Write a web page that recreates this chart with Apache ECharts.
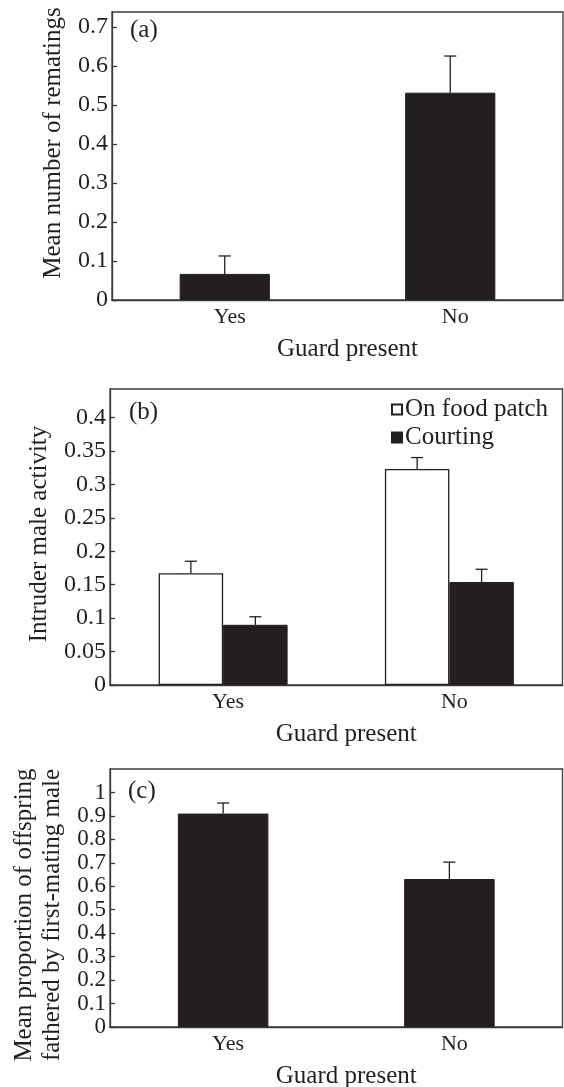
<!DOCTYPE html>
<html>
<head>
<meta charset="utf-8">
<script src="https://cdn.jsdelivr.net/npm/echarts@6/dist/echarts.min.js"></script>
<style>html,body{margin:0;padding:0;background:#fff}#c{width:564px;height:1087px}</style>
</head>
<body>
<div id="c"></div>
<script>
// ---- data ----
const categories = ['Yes', 'No'];
// (a) mean number of rematings
const rematingMean = [0.067, 0.532];
const rematingSE = [0.046, 0.094];
const ticksA = [0, 0.1, 0.2, 0.3, 0.4, 0.5, 0.6, 0.7];
// (b) intruder male activity
const foodPatchMean = [0.167, 0.323];
const foodPatchSE = [0.018, 0.017];
const courtingMean = [0.090, 0.154];
const courtingSE = [0.012, 0.019];
const ticksB = [0, 0.05, 0.1, 0.15, 0.2, 0.25, 0.3, 0.35, 0.4];
// (c) proportion of offspring fathered by first-mating male
const paternityMean = [0.910, 0.631];
const paternitySE = [0.045, 0.072];
const ticksC = [0, 0.1, 0.2, 0.3, 0.4, 0.5, 0.6, 0.7, 0.8, 0.9, 1];

// ---- style ----
const FONT = 'Liberation Serif';
const INK = '#231f20';
const LINE = '#3a3a3a';
const CAT_FS = 22, NAME_FS = 25;

function errData(means, ses) { return means.map((m, i) => [i, m, ses[i]]); }
function errSeries(idx, means, ses, off) {
  return {
    type: 'custom', xAxisIndex: idx, yAxisIndex: idx, z: 5,
    data: errData(means, ses),
    renderItem: function (params, api) {
      const ci = api.value(0), m = api.value(1), e = api.value(2);
      const band = api.size([1, 0])[0];
      const b = api.coord([ci, m]);
      const t = api.coord([ci, m + e]);
      const x = b[0] + off * band;
      const st = { stroke: INK, lineWidth: 1.3 };
      return { type: 'group', children: [
        { type: 'line', shape: { x1: x, y1: b[1], x2: x, y2: t[1] }, style: st },
        { type: 'line', shape: { x1: x - 6, y1: t[1], x2: x + 6, y2: t[1] }, style: st }
      ]};
    }
  };
}
function xAxis(idx) {
  return {
    type: 'category', gridIndex: idx, data: categories,
    name: 'Guard present', nameLocation: 'middle', nameGap: 37,
    nameTextStyle: { fontFamily: FONT, fontSize: NAME_FS, color: INK, padding: [0, 0, 0, 20] },
    axisLine: { lineStyle: { color: LINE, width: 1.3 } },
    axisTick: { inside: true, length: 5, lineStyle: { color: LINE, width: 1.3 } },
    axisLabel: { fontFamily: FONT, fontSize: CAT_FS, color: INK, margin: 6, padding: [0, 0, 0, 10] },
    splitLine: { show: false }
  };
}
function yAxis(idx, max, ticks, name, gap, pad, fs) {
  return {
    type: 'value', gridIndex: idx, min: 0, max: max,
    name: name, nameLocation: 'middle', nameGap: gap,
    nameTextStyle: { fontFamily: FONT, fontSize: NAME_FS, color: INK, lineHeight: 28, padding: pad },
    axisLine: { show: true, lineStyle: { color: LINE, width: 1.3 } },
    axisTick: { show: true, inside: true, length: 5, customValues: ticks, lineStyle: { color: LINE, width: 1.3 } },
    axisLabel: { fontFamily: FONT, fontSize: fs, lineHeight: 20, color: INK, margin: 4, customValues: ticks,
      showMinLabel: true, showMaxLabel: true, hideOverlap: false,
      formatter: v => String(+v.toFixed(2)) },
    splitLine: { show: false }
  };
}
const gridBase = { show: true, borderColor: LINE, borderWidth: 1.3, containLabel: false, outerBoundsMode: 'none' };
const blackBar = { color: INK, borderColor: INK, borderWidth: 1 };
const whiteBar = { color: '#ffffff', borderColor: INK, borderWidth: 1.3 };
const panelLabel = { fontFamily: FONT, fontSize: NAME_FS, fontWeight: 'normal', color: INK };

const option = {
  animation: false,
  backgroundColor: '#ffffff',
  textStyle: { fontFamily: FONT },
  title: [
    { text: '(a)', left: 130, top: 18, padding: 0, textStyle: panelLabel },
    { text: '(b)', left: 129, top: 400, padding: 0, textStyle: panelLabel },
    { text: '(c)', left: 128, top: 779, padding: 0, textStyle: panelLabel }
  ],
  legend: {
    data: ['On food patch', 'Courting'], orient: 'vertical', left: 391, top: 397,
    itemWidth: 10, itemHeight: 10, itemGap: 3, icon: 'rect', padding: 0,
    textStyle: { fontFamily: FONT, fontSize: NAME_FS, color: INK, padding: [0, 0, 0, -2] }
  },
  grid: [
    Object.assign({ left: 112, right: 1, top: 12, bottom: 787 }, gridBase),
    Object.assign({ left: 110, right: 1.5, top: 389, bottom: 402 }, gridBase),
    Object.assign({ left: 110, right: 1.5, top: 769, bottom: 60 }, gridBase)
  ],
  xAxis: [xAxis(0), xAxis(1), xAxis(2)],
  yAxis: [
    yAxis(0, 0.739, ticksA, 'Mean number of rematings', 45, [0, 0, 0, 26], 24),
    yAxis(1, 0.4425, ticksB, 'Intruder male activity', 53, [0, 0, 0, 6], 24),
    yAxis(2, 1.1, ticksC, 'Mean proportion of offspring\nfathered by first-mating male', 43, [0, 34, 0, 0], 23)
  ],
  series: [
    { type: 'bar', name: 'Remating', xAxisIndex: 0, yAxisIndex: 0, data: rematingMean, barWidth: '40%', itemStyle: blackBar },
    errSeries(0, rematingMean, rematingSE, 0),
    { type: 'bar', name: 'On food patch', xAxisIndex: 1, yAxisIndex: 1, data: foodPatchMean, barWidth: '28.5%', barGap: '0%', itemStyle: whiteBar },
    { type: 'bar', name: 'Courting', xAxisIndex: 1, yAxisIndex: 1, data: courtingMean, barWidth: '28.5%', barGap: '0%', itemStyle: blackBar },
    errSeries(1, foodPatchMean, foodPatchSE, -0.1425),
    errSeries(1, courtingMean, courtingSE, 0.1425),
    { type: 'bar', name: 'Paternity', xAxisIndex: 2, yAxisIndex: 2, data: paternityMean, barWidth: '40%', itemStyle: blackBar },
    errSeries(2, paternityMean, paternitySE, 0)
  ]
};
const chart = echarts.init(document.getElementById('c'), null, { renderer: 'canvas' });
chart.setOption(option);
</script>
</body>
</html>
